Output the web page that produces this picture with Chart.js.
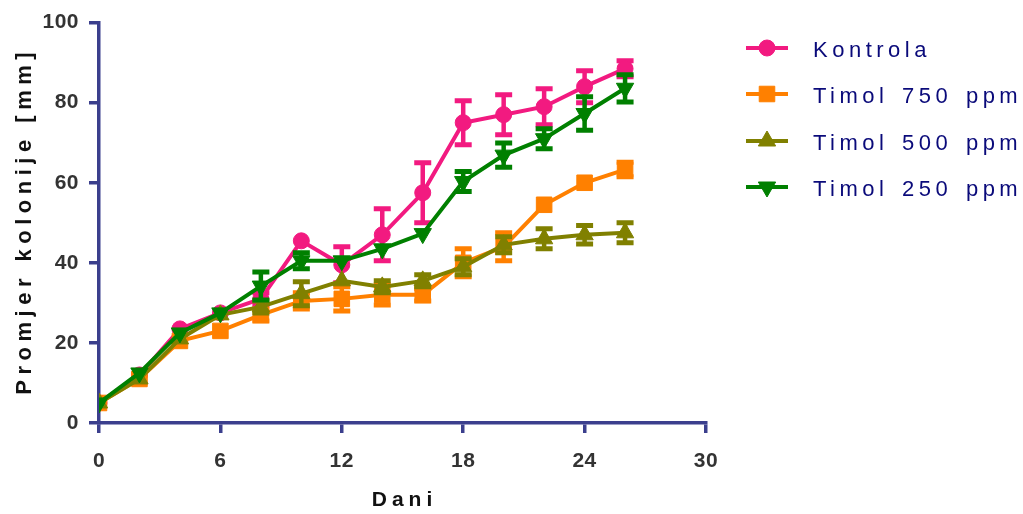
<!DOCTYPE html>
<html>
<head>
<meta charset="utf-8">
<script src="https://cdn.jsdelivr.net/npm/chart.js@4.4.1/dist/chart.umd.min.js"></script>
<style>
  html, body { margin: 0; padding: 0; background: #fff; }
  canvas { display: block; }
</style>
</head>
<body>
<canvas id="mycanvas" width="1023" height="514"></canvas>
<script>
// data
var days = [0, 2, 4, 6, 8, 10, 12, 14, 16, 18, 20, 22, 24, 26];
var seriesNames = ["Kontrola", "Timol 750 ppm", "Timol 500 ppm", "Timol 250 ppm"];

var kontrola    = [5, 12, 23.5, 27.5, 31, 45.5, 39.5, 47, 57.5, 75, 77, 79, 84, 88.5];
var kontrolaErr = [0.5, 1, 1, 1, 1.5, 1, 4.5, 6.5, 7.5, 5.5, 5, 4.5, 4, 2];

var timol750    = [5, 11, 20.5, 23, 27, 30.5, 31, 32, 32, 40, 44, 54.5, 60, 63.3];
var timol750Err = [0.5, 1, 1, 1, 1.5, 2, 3, 2.5, 1.5, 3.5, 3.5, 1, 1, 1.8];

var timol500    = [5, 11, 21, 27, 29, 32.3, 35.5, 34, 35.5, 39, 44.5, 46, 47, 47.5];
var timol500Err = [0.5, 1, 1, 1, 1.5, 3, 1, 1.5, 1.5, 2, 2, 2.5, 2.3, 2.5];

var timol250    = [5, 12.5, 22.5, 27.5, 34.2, 40.5, 40.5, 43.5, 47.3, 60.3, 66.9, 71, 77.3, 83.6];
var timol250Err = [0.5, 1, 1, 1, 3.5, 2, 1, 1, 1, 2.5, 3, 2.5, 4.2, 3.4];

var xTickValues = [0, 6, 12, 18, 24, 30];
var yTickValues = [0, 20, 40, 60, 80, 100];
var xTitle = "Dani";
var yTitle = "Promjer kolonije [mm]";

var AXIS = "#3b3f8d";
var FONT = "'Liberation Sans', Arial, sans-serif";

function pts(vals) {
  var out = [];
  for (var i in days) out.push({x: days[i], y: vals[i]});
  return out;
}

function series(label, vals, err, color, style, radius, rotation, order) {
  return {
    label: label,
    data: pts(vals),
    errors: err,
    order: order,
    borderColor: color,
    backgroundColor: color,
    borderWidth: 4,
    tension: 0,
    fill: false,
    pointStyle: style,
    pointRadius: radius,
    pointRotation: rotation,
    pointBorderWidth: 1,
    pointBackgroundColor: color,
    pointBorderColor: color
  };
}

var chartdata = {
  datasets: [
    series(seriesNames[0], kontrola, kontrolaErr, "#f21a80", "circle", 8, 0, 4),
    series(seriesNames[1], timol750, timol750Err, "#ff8000", "rect", 11, 0, 3),
    series(seriesNames[2], timol500, timol500Err, "#808000", "triangle", 10, 0, 2),
    series(seriesNames[3], timol250, timol250Err, "#008000", "triangle", 10, 180, 1)
  ]
};

// error bars, drawn under each dataset's own markers
var errorBars = {
  id: "errorBars",
  beforeDatasetDraw: function(chart, args) {
    var ds = chart.data.datasets[args.index];
    var xs = chart.scales.x, ys = chart.scales.y;
    var ctx = chart.ctx;
    ctx.save();
    ctx.strokeStyle = ds.borderColor;
    for (var i = 0; i < ds.data.length; i++) {
      var e = ds.errors[i];
      if (e < 1.5) continue;
      var x = xs.getPixelForValue(ds.data[i].x);
      var top = ys.getPixelForValue(ds.data[i].y + e);
      var bot = ys.getPixelForValue(ds.data[i].y - e);
      ctx.lineWidth = 4.5;
      ctx.beginPath();
      ctx.moveTo(x, top);
      ctx.lineTo(x, bot);
      ctx.stroke();
      ctx.lineWidth = 5;
      ctx.beginPath();
      ctx.moveTo(x - 8.5, top); ctx.lineTo(x + 8.5, top);
      ctx.moveTo(x - 8.5, bot); ctx.lineTo(x + 8.5, bot);
      ctx.stroke();
    }
    ctx.restore();
  }
};

// spacing for tick labels, titles and legend on the side
var decor = {
  id: "decor",
  beforeDraw: function(chart) {
    chart.ctx.letterSpacing = "0.5px";
  },
  afterDraw: function(chart) {
    var ctx = chart.ctx;
    var area = chart.chartArea;
    ctx.save();
    ctx.fillStyle = "#111";
    ctx.font = "bold 21px " + FONT;
    ctx.letterSpacing = "5px";
    ctx.textAlign = "center";
    ctx.textBaseline = "middle";
    ctx.fillText(xTitle, (area.left + area.right) / 2 + 2, 500);
    ctx.save();
    ctx.translate(25, (area.top + area.bottom) / 2);
    ctx.rotate(-Math.PI / 2);
    ctx.font = "bold 22px " + FONT;
    ctx.letterSpacing = "5.5px";
    ctx.fillText(yTitle, 2, 0);
    ctx.restore();

    // legend
    var rows = [48, 94, 141, 187];
    ctx.font = "22px " + FONT;
    ctx.letterSpacing = "4.5px";
    ctx.wordSpacing = "3px";
    ctx.textAlign = "left";
    ctx.textBaseline = "alphabetic";
    chart.data.datasets.forEach(function(ds, i) {
      var y = rows[i];
      ctx.strokeStyle = ds.borderColor;
      ctx.lineWidth = 4;
      ctx.beginPath();
      ctx.moveTo(746, y);
      ctx.lineTo(788, y);
      ctx.stroke();
      ctx.fillStyle = ds.pointBackgroundColor;
      ctx.lineWidth = 1;
      Chart.helpers.drawPoint(ctx, {
        pointStyle: ds.pointStyle,
        radius: ds.pointRadius,
        rotation: ds.pointRotation,
        borderWidth: 1
      }, 767, y);
      ctx.fillStyle = "#0a0a7a";
      ctx.fillText(ds.label, 813, y + 8.5);
    });
    ctx.restore();
  }
};

var ctx = document.getElementById("mycanvas");

var LineGraph = new Chart(ctx, {
  type: "line",
  data: chartdata,
  plugins: [errorBars, decor],
  options: {
    responsive: false,
    animation: false,
    devicePixelRatio: 1,
    layout: { padding: { left: 0, right: 317, top: 20, bottom: 0 } },
    plugins: {
      legend: { display: false },
      tooltip: { enabled: false }
    },
    scales: {
      x: {
        type: "linear",
        min: 0,
        max: 30,
        afterBuildTicks: function(s) { s.ticks = xTickValues.map(function(v) { return {value: v}; }); },
        afterFit: function(s) { s.height = 91; },
        grid: { drawOnChartArea: false, tickLength: 10, color: AXIS, lineWidth: 3.5 },
        border: { color: AXIS, width: 3.5 },
        ticks: { font: { family: FONT, size: 21, weight: "bold" }, color: "#333", padding: 16, maxRotation: 0 }
      },
      y: {
        type: "linear",
        min: 0,
        max: 100,
        afterBuildTicks: function(s) { s.ticks = yTickValues.map(function(v) { return {value: v}; }); },
        afterFit: function(s) { s.width = 99; },
        grid: { drawOnChartArea: false, tickLength: 10, color: AXIS, lineWidth: 3.5 },
        border: { color: AXIS, width: 3.5 },
        ticks: { font: { family: FONT, size: 21, weight: "bold" }, color: "#333", padding: 10 }
      }
    }
  }
});
</script>
</body>
</html>
